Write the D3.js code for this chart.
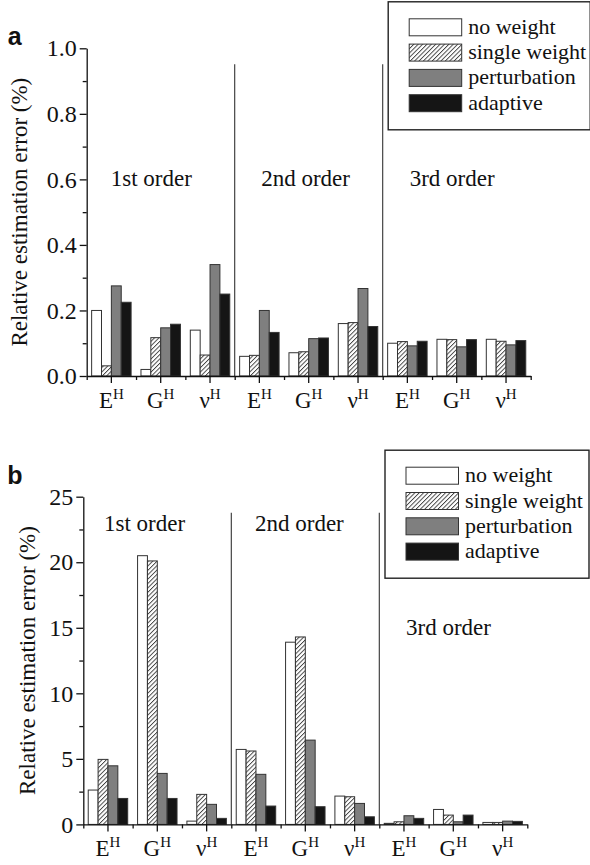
<!DOCTYPE html>
<html>
<head>
<meta charset="utf-8">
<script src="https://cdn.jsdelivr.net/npm/d3@7"></script>
<style>
  body { margin: 0; background: #fff; }
  svg text { font-family: "Liberation Serif", "DejaVu Serif", serif; fill: #111; }
</style>
</head>
<body>
<div id="chart"></div>
<script>
const width = 590
const height = 865

// categories (base letter + superscript H)
const groups = ["E", "G", "ν", "E", "G", "ν", "E", "G", "ν"]
const superscript = "H"
const seriesNames = ["no weight", "single weight", "perturbation", "adaptive"]
const orderNames = ["1st order", "2nd order", "3rd order"]

// panel a values
const noWeightA = [0.20, 0.02, 0.14, 0.06, 0.071, 0.16, 0.10, 0.112, 0.112]
const singleA = [0.031, 0.117, 0.064, 0.063, 0.074, 0.163, 0.105, 0.111, 0.106]
const perturbA = [0.275, 0.147, 0.34, 0.20, 0.114, 0.267, 0.092, 0.089, 0.095]
const adaptiveA = [0.225, 0.158, 0.25, 0.133, 0.116, 0.151, 0.106, 0.111, 0.108]
const ticksA = [0, 0.2, 0.4, 0.6, 0.8, 1.0]
const minorA = [0.1, 0.3, 0.5, 0.7, 0.9]

// panel b values
const noWeightB = [2.62, 20.5, 0.25, 5.72, 13.9, 2.16, 0.08, 1.14, 0.15]
const singleB = [4.96, 20.1, 2.29, 5.6, 14.3, 2.11, 0.2, 0.71, 0.15]
const perturbB = [4.47, 3.89, 1.53, 3.82, 6.43, 1.6, 0.66, 0.2, 0.25]
const adaptiveB = [1.98, 1.98, 0.46, 1.4, 1.35, 0.58, 0.46, 0.71, 0.23]
const ticksB = [0, 5, 10, 15, 20, 25]
const minorB = [2.5, 7.5, 12.5, 17.5, 22.5]

const fills = ["#ffffff", "url(#hatch)", "#7f7f7f", "#151515"]
const serif = '"Liberation Serif", "DejaVu Serif", serif'

const svg = d3.select("#chart")
  .append("svg")
  .attr("width", width)
  .attr("height", height)

const pattern = svg.append("defs").append("pattern")
  .attr("id", "hatch")
  .attr("patternUnits", "userSpaceOnUse")
  .attr("width", 3.1)
  .attr("height", 3.1)
  .attr("patternTransform", "rotate(45)")
pattern.append("rect").attr("width", 3.1).attr("height", 3.1).attr("fill", "#fff")
pattern.append("line")
  .attr("x1", 0.5).attr("y1", 0).attr("x2", 0.5).attr("y2", 3.1)
  .attr("stroke", "#222").attr("stroke-width", 0.8)

const drawPanel = (cfg) => {
  const plotW = 444
  const plotH = 327.7
  const g = svg.append("g").attr("transform", `translate(${cfg.left},${cfg.top})`)

  const x0 = d3.scaleBand().domain(d3.range(groups.length)).range([0, plotW])
    .paddingInner(0.2).paddingOuter(0.1)
  const x1 = d3.scaleBand().domain(d3.range(seriesNames.length)).range([0, x0.bandwidth()])
  const xb = d3.scaleLinear().domain([0, groups.length]).range([0, plotW])
  const y = d3.scaleLinear().domain(cfg.domain).range([plotH, 0])

  // separators between orders
  g.selectAll("line.sep")
    .data([3, 6])
    .join("line")
      .attr("class", "sep")
      .attr("x1", d => xb(d)).attr("x2", d => xb(d))
      .attr("y1", 16).attr("y2", plotH)
      .attr("stroke", "#333").attr("stroke-width", 1.1)

  // bars
  const rows = groups.map((name, i) => cfg.series.map((vals, s) => ({ i, s, v: vals[i] })))
  g.selectAll("g.grp")
    .data(rows)
    .join("g")
      .attr("class", "grp")
      .attr("transform", (d, i) => `translate(${x0(i)},0)`)
    .selectAll("rect")
    .data(d => d)
    .join("rect")
      .attr("x", d => x1(d.s))
      .attr("width", x1.bandwidth())
      .attr("y", d => y(d.v))
      .attr("height", d => y(0) - y(d.v))
      .attr("fill", d => fills[d.s])
      .attr("stroke", "#333")
      .attr("stroke-width", 1)

  // y axis
  const yAxis = g.append("g")
    .call(d3.axisLeft(y).tickValues(cfg.ticks).tickFormat(cfg.fmt).tickSize(7).tickSizeOuter(0).tickPadding(3))
  g.append("g")
    .call(d3.axisLeft(y).tickValues(cfg.minor).tickFormat("").tickSize(4).tickSizeOuter(0))
    .select(".domain").remove()
  yAxis.selectAll("text").style("font-family", serif).style("font-size", "24px").attr("fill", "#111")

  // x axis: minor ticks at boundaries, major at group centers
  g.append("g")
    .attr("transform", `translate(0,${plotH})`)
    .call(d3.axisBottom(xb).tickValues(d3.range(groups.length + 1)).tickFormat("").tickSize(4).tickSizeOuter(0))
  const xAxis = g.append("g")
    .attr("transform", `translate(0,${plotH})`)
    .call(d3.axisBottom(x0).tickFormat("").tickSize(7).tickSizeOuter(0))
  xAxis.select(".domain").remove()
  xAxis.selectAll(".tick").append("text")
    .attr("y", 32)
    .attr("text-anchor", "middle")
    .style("font-family", serif)
    .style("font-size", "23px")
    .attr("fill", "#111")
    .each(function (d) {
      const t = d3.select(this)
      t.append("tspan").text(groups[d])
      t.append("tspan").style("font-size", "15px").attr("dy", -9).text(superscript)
    })

  g.selectAll(".domain, .tick line").attr("stroke", "#111").attr("stroke-width", 1.3)

  // order labels
  g.selectAll("text.order")
    .data(orderNames)
    .join("text")
      .attr("class", "order")
      .attr("x", (d, i) => xb(i * 3) + cfg.orderDx[i])
      .attr("y", (d, i) => y(cfg.orderY[i]))
      .style("font-family", serif)
      .style("font-size", "23px")
      .text(d => d)

  // y label
  g.append("text")
    .attr("transform", `translate(${cfg.labelX},${plotH / 2}) rotate(-90)`)
    .attr("text-anchor", "middle")
    .style("font-family", serif)
    .style("font-size", "23px")
    .text("Relative estimation error (%)")

  // panel letter
  g.append("text")
    .attr("x", cfg.letterX).attr("y", cfg.letterY)
    .style("font-family", '"Liberation Sans", "DejaVu Sans", sans-serif')
    .style("font-weight", "bold")
    .style("font-size", "25px")
    .text(cfg.letter)

  // legend
  const leg = g.append("g").attr("transform", `translate(${cfg.legX},-46.5)`)
  leg.append("rect")
    .attr("width", cfg.legW).attr("height", 128)
    .attr("fill", "#fff").attr("stroke", "#222").attr("stroke-width", 1.4)
  const items = leg.selectAll("g.item")
    .data(seriesNames)
    .join("g")
      .attr("class", "item")
      .attr("transform", (d, i) => `translate(21,${25.5 + i * 25.3})`)
  items.append("rect")
    .attr("y", -8.5).attr("width", 52.5).attr("height", 17)
    .attr("fill", (d, i) => fills[i])
    .attr("stroke", "#333").attr("stroke-width", 1)
  items.append("text")
    .attr("x", 59).attr("y", 6.5)
    .style("font-family", serif)
    .style("font-size", "22px")
    .text(d => d)
}

drawPanel({
  left: 86.7, top: 48.3,
  domain: [0, 1], ticks: ticksA, minor: minorA, fmt: d3.format(".1f"),
  series: [noWeightA, singleA, perturbA, adaptiveA],
  orderDx: [24, 26.5, 27], orderY: [0.58, 0.58, 0.58],
  labelX: -60, letter: "a", letterX: -79, letterY: -3,
  legX: 301.5, legW: 202
})

drawPanel({
  left: 83.3, top: 496.7,
  domain: [0, 25], ticks: ticksB, minor: minorB, fmt: d3.format("d"),
  series: [noWeightB, singleB, perturbB, adaptiveB],
  orderDx: [20.7, 23.7, 26.7], orderY: [22.4, 22.4, 14.45],
  labelX: -48, letter: "b", letterX: -76, letterY: -13,
  legX: 301.7, legW: 204
})
</script>
</body>
</html>
